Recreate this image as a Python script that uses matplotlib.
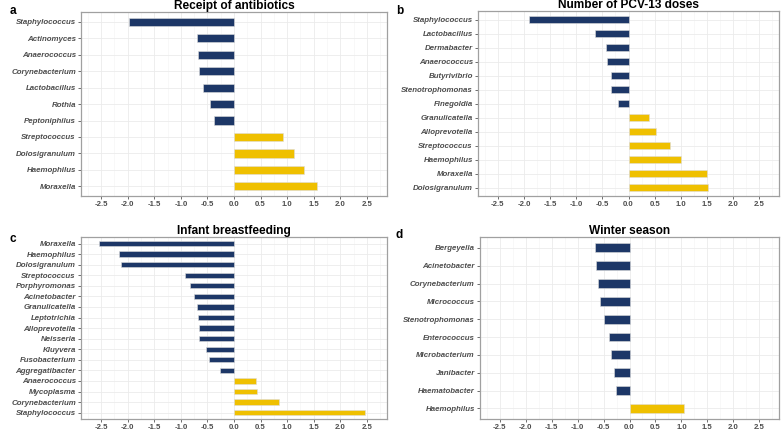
import matplotlib
matplotlib.use("Agg")
import matplotlib.pyplot as plt
import numpy as np

plt.rcParams['font.family'] = ['Liberation Sans', 'DejaVu Sans']

# ---- data ----
a_genera = ["Staphylococcus", "Actinomyces", "Anaerococcus", "Corynebacterium",
            "Lactobacillus", "Rothia", "Peptoniphilus", "Streptococcus",
            "Dolosigranulum", "Haemophilus", "Moraxella"]
a_values = [-1.97, -0.70, -0.67, -0.65, -0.58, -0.46, -0.375, 0.93, 1.12, 1.31, 1.56]

b_genera = ["Staphylococcus", "Lactobacillus", "Dermabacter", "Anaerococcus",
            "Butyrivibrio", "Stenotrophomonas", "Finegoldia", "Granulicatella",
            "Alloprevotella", "Streptococcus", "Haemophilus", "Moraxella",
            "Dolosigranulum"]
b_values = [-1.91, -0.65, -0.43, -0.42, -0.34, -0.34, -0.21, 0.40, 0.52, 0.80,
            1.00, 1.50, 1.53]

c_genera = ["Moraxella", "Haemophilus", "Dolosigranulum", "Streptococcus",
            "Porphyromonas", "Acinetobacter", "Granulicatella", "Leptotrichia",
            "Alloprevotella", "Neisseria", "Kluyvera", "Fusobacterium",
            "Aggregatibacter", "Anaerococcus", "Mycoplasma", "Corynebacterium",
            "Staphylococcus"]
c_values = [-2.54, -2.17, -2.125, -0.93, -0.83, -0.75, -0.69, -0.675, -0.66,
            -0.66, -0.53, -0.475, -0.26, 0.41, 0.44, 0.84, 2.475]

d_genera = ["Bergeyella", "Acinetobacter", "Corynebacterium", "Micrococcus",
            "Stenotrophomonas", "Enterococcus", "Microbacterium", "Janibacter",
            "Haematobacter", "Haemophilus"]
d_values = [-0.66, -0.65, -0.60, -0.57, -0.49, -0.40, -0.36, -0.30, -0.26, 1.04]

titles = ["Receipt of antibiotics", "Number of PCV-13 doses",
          "Infant breastfeeding", "Winter season"]
panel_letters = ["a", "b", "c", "d"]
xticks = [-2.5, -2.0, -1.5, -1.0, -0.5, 0.0, 0.5, 1.0, 1.5, 2.0, 2.5]

NEG = "#1D3767"
POS = "#EFC000"

fig = plt.figure(figsize=(7.82, 4.32), dpi=100)

positions = [
    [0.1036, 0.546, 0.3913, 0.426],
    [0.6113, 0.546, 0.3849, 0.428],
    [0.1036, 0.030, 0.3913, 0.421],
    [0.6138, 0.030, 0.3824, 0.421],
]
letter_pos = [(0.012, 0.975), (0.506, 0.975), (0.012, 0.447), (0.506, 0.455)]

datasets = [(a_genera, a_values), (b_genera, b_values),
            (c_genera, c_values), (d_genera, d_values)]

for i, (gen, vals) in enumerate(datasets):
    ax = fig.add_axes(positions[i])
    n = len(gen)
    y = np.arange(n)[::-1]
    colors = [NEG if v < 0 else POS for v in vals]
    ax.barh(y, vals, height=0.5, color=colors, edgecolor="#DDDDDD",
            linewidth=0.4, zorder=3)
    ax.set_ylim(-0.6, n - 1 + 0.6)
    ax.set_xlim(-2.88, 2.88)
    ax.set_yticks(y)
    ax.set_yticklabels(gen, fontsize=5.7, fontweight='bold', fontstyle='italic',
                       color="#4D4D4D")
    ax.set_xticks(xticks)
    ax.set_xticklabels([f"{t:.1f}" for t in xticks], fontsize=5.6,
                       fontweight='bold', color="#4D4D4D")
    ax.set_xticks(np.arange(-2.75, 2.8, 0.5), minor=True)
    ax.grid(True, which='major', color="#EBEBEB", linewidth=0.6, zorder=0)
    ax.grid(True, which='minor', axis='x', color="#F4F4F4", linewidth=0.4, zorder=0)
    ax.tick_params(axis='both', which='major', length=2.5, width=0.6,
                   color="#555555", pad=1.2)
    ax.tick_params(axis='x', which='minor', length=0)
    for s in ax.spines.values():
        s.set_color("#A0A0A0")
        s.set_linewidth(0.9)
    ax.set_axisbelow(True)
    ax.set_title(titles[i], fontsize=8.6, fontweight='bold', color='black', pad=2.5)
    fig.text(letter_pos[i][0], letter_pos[i][1], panel_letters[i], fontsize=8.5,
             fontweight='bold', color='black', ha='left', va='center')

fig.savefig("out.png", dpi=100)
